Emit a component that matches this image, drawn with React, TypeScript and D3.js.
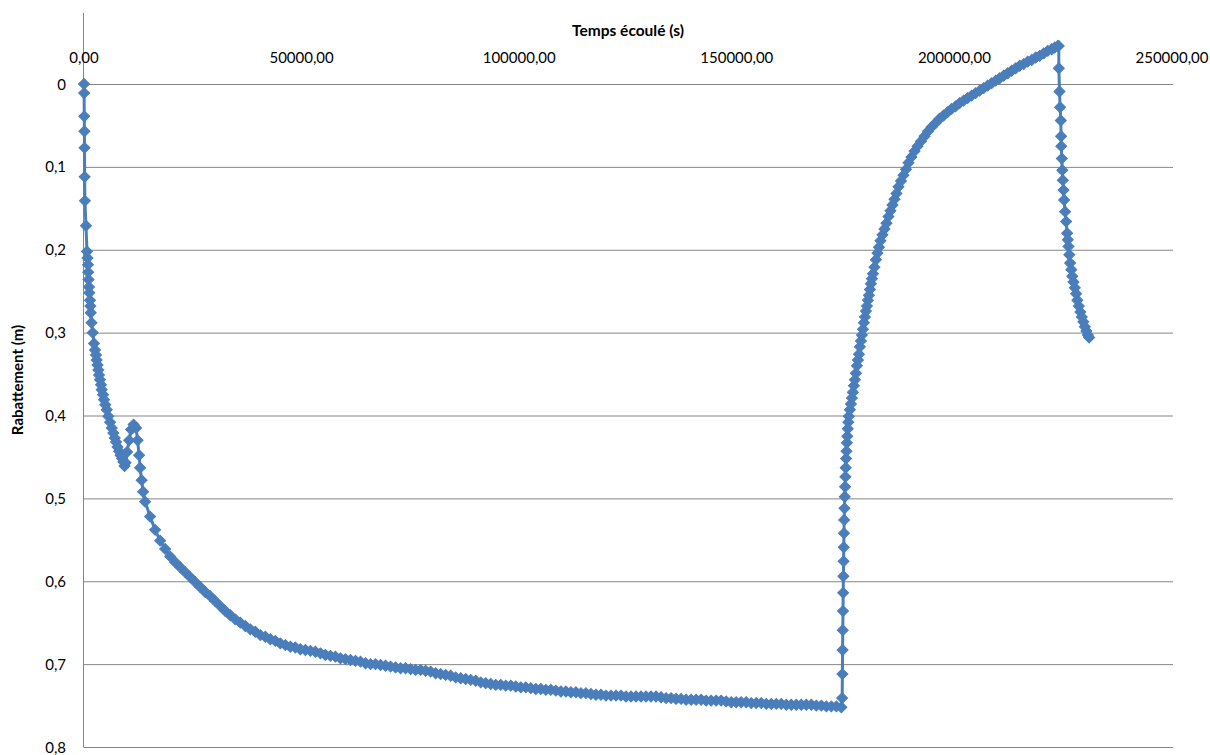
import React from "react";
import * as d3 from "d3";

// Temps écoulé (s), Rabattement (m)
const debutPompage: [number, number][] = [
  [0, 0.0], [30, 0.011], [60, 0.039], [90, 0.057], [120, 0.077], [150, 0.112], [210, 0.141], [450, 0.171], [690, 0.202],
  [810, 0.21], [920, 0.218], [970, 0.227], [1040, 0.236], [1150, 0.245], [1220, 0.252], [1380, 0.261], [1450, 0.268],
  [1540, 0.276], [1730, 0.288], [2000, 0.3], [2300, 0.313], [2530, 0.321], [2760, 0.327], [2920, 0.333], [3110, 0.339],
  [3290, 0.345], [3450, 0.351], [3680, 0.357], [3910, 0.363], [4070, 0.369], [4370, 0.375], [4600, 0.381], [4900, 0.387],
  [5230, 0.393], [5590, 0.401], [5990, 0.408], [6380, 0.415], [6740, 0.421], [7070, 0.427], [7370, 0.432], [7710, 0.438],
  [8060, 0.443], [8400, 0.448], [8750, 0.452], [9050, 0.456], [9320, 0.461],
  [9550, 0.457], [9900, 0.444], [10360, 0.43], [10820, 0.417], [11390, 0.411], [11970, 0.415], [12320, 0.43],
  [12660, 0.448], [12890, 0.463], [13240, 0.478], [13580, 0.492],
];

const pompage: [number, number][] = [
  [14040, 0.504], [15190, 0.522], [16340, 0.538], [17500, 0.551], [18650, 0.561], [19800, 0.57], [20950, 0.577],
  [22100, 0.583], [23250, 0.589], [24400, 0.595], [25550, 0.601], [26700, 0.607], [27850, 0.613], [29010, 0.618],
  [30160, 0.624], [31310, 0.63], [32460, 0.636], [33610, 0.641], [34760, 0.646], [35910, 0.65], [37060, 0.654],
  [38210, 0.658], [39360, 0.661], [40520, 0.665], [41670, 0.667], [42820, 0.67], [43970, 0.672], [45120, 0.675],
  [46270, 0.677], [47420, 0.679], [48570, 0.68], [49720, 0.682], [50870, 0.683], [52030, 0.684], [53180, 0.685],
  [54330, 0.687], [55480, 0.689], [56630, 0.69], [57780, 0.691], [58930, 0.693], [60080, 0.694], [61230, 0.695],
  [62380, 0.696], [63540, 0.697], [64690, 0.699], [65840, 0.7], [66990, 0.7], [68140, 0.701], [69290, 0.702],
  [70440, 0.703], [71590, 0.704], [72740, 0.705], [73890, 0.705], [75050, 0.706], [76200, 0.707], [77350, 0.707],
  [78500, 0.708], [79650, 0.709], [80800, 0.711], [81950, 0.712], [83100, 0.713], [84250, 0.714], [85400, 0.716],
  [86560, 0.717], [87710, 0.718], [88860, 0.719], [90010, 0.72], [91160, 0.722], [92310, 0.723], [93460, 0.724],
  [94610, 0.725], [95760, 0.725], [96910, 0.726], [98070, 0.726], [99220, 0.727], [100370, 0.728], [101520, 0.728],
  [102670, 0.729], [103820, 0.73], [104970, 0.73], [106120, 0.731], [107270, 0.731], [108420, 0.732], [109580, 0.733],
  [110730, 0.733], [111880, 0.734], [113030, 0.734], [114180, 0.735], [115330, 0.735], [116480, 0.736], [117630, 0.737],
  [118780, 0.737], [119930, 0.738], [121090, 0.738], [122240, 0.738], [123390, 0.738], [124540, 0.739], [125690, 0.739],
  [126840, 0.739], [127990, 0.739], [129140, 0.739], [130290, 0.739], [131440, 0.739], [132600, 0.74], [133750, 0.741],
  [134900, 0.741], [136050, 0.742], [137200, 0.742], [138350, 0.743], [139500, 0.743], [140650, 0.743], [141800, 0.743],
  [142950, 0.744], [144110, 0.744], [145260, 0.744], [146410, 0.744], [147560, 0.745], [148710, 0.746], [149860, 0.746],
  [151010, 0.746], [152160, 0.746], [153310, 0.747], [154460, 0.747], [155620, 0.747], [156770, 0.748], [157920, 0.748],
  [159070, 0.748], [160220, 0.748], [161370, 0.749], [162520, 0.749], [163670, 0.749], [164820, 0.749], [165970, 0.749],
  [167130, 0.749], [168280, 0.75], [169430, 0.75], [170580, 0.751], [171730, 0.751], [172880, 0.751], [174030, 0.752],
];

const remontee: [number, number][] = [
  [174210, 0.741], [174260, 0.712], [174310, 0.683], [174350, 0.659], [174400, 0.636], [174440, 0.614], [174490, 0.594],
  [174540, 0.576], [174580, 0.559], [174630, 0.542], [174670, 0.526], [174740, 0.512], [174810, 0.498], [174880, 0.486],
  [174950, 0.474], [175020, 0.463], [175110, 0.452], [175200, 0.443], [175290, 0.433], [175390, 0.425], [175500, 0.416],
  [175620, 0.408], [175730, 0.401],
  [175990, 0.393], [176220, 0.386], [176450, 0.379], [176680, 0.372], [176910, 0.364], [177140, 0.357], [177370, 0.349],
  [177600, 0.34], [177830, 0.333], [178060, 0.326], [178290, 0.317], [178520, 0.31], [178750, 0.303], [178980, 0.296],
  [179210, 0.288], [179440, 0.281], [179670, 0.274], [179900, 0.268], [180130, 0.261], [180360, 0.255], [180590, 0.248],
  [180820, 0.241], [181050, 0.235], [181280, 0.229], [181630, 0.221], [181970, 0.212], [182320, 0.204], [182660, 0.197],
  [183010, 0.189], [183470, 0.182], [183930, 0.175], [184390, 0.168], [184850, 0.16], [185310, 0.153], [185770, 0.146],
  [186230, 0.139], [186690, 0.132], [187150, 0.124], [187730, 0.117], [188300, 0.11], [188880, 0.103], [189450, 0.095],
  [190140, 0.088], [190840, 0.081], [191530, 0.075], [192330, 0.069], [193140, 0.063], [193940, 0.057], [194750, 0.052],
  [195670, 0.047], [196590, 0.042], [197510, 0.038], [198430, 0.034], [199350, 0.03], [200270, 0.027], [201200, 0.023],
  [202120, 0.02], [203040, 0.017], [203960, 0.014], [204880, 0.011], [205800, 0.008], [206720, 0.005], [207640, 0.002],
  [208560, -0.001], [209480, -0.004], [210400, -0.007], [211320, -0.01], [212240, -0.013], [213170, -0.016],
  [214090, -0.019], [215010, -0.022], [215930, -0.024], [216850, -0.027], [217770, -0.029], [218690, -0.032],
  [219610, -0.034], [220530, -0.037], [221450, -0.04], [222370, -0.042], [223060, -0.044], [223750, -0.046],
];

const reprise: [number, number][] = [
  [223980, -0.046], [224000, -0.019], [224150, 0.009], [224290, 0.028], [224450, 0.044], [224520, 0.063], [224560, 0.075],
  [224680, 0.09], [224790, 0.104], [224910, 0.116], [225070, 0.128], [225210, 0.14], [225440, 0.154], [225670, 0.166],
  [225900, 0.18], [226060, 0.188], [226220, 0.196], [226400, 0.206], [226590, 0.216], [226860, 0.224], [227090, 0.232],
  [227370, 0.239], [227670, 0.246], [227970, 0.253], [228250, 0.261], [228590, 0.268], [228940, 0.275], [229280, 0.281],
  [229630, 0.287], [229970, 0.293], [230320, 0.298], [230660, 0.303], [230960, 0.306],
];

const xTicks = [0, 50000, 100000, 150000, 200000, 250000];
const yTicks = [0, 0.1, 0.2, 0.3, 0.4, 0.5, 0.6, 0.7, 0.8];
const yAxisTop = -0.0857;
const xTitle = "Temps écoulé (s)";
const yTitle = "Rabattement (m)";

const locale = d3.formatLocale({ decimal: ",", thousands: "", grouping: [3], currency: ["", "€"] });
const fmtX = locale.format(".2f");
const fmtY = locale.format(".1~f");

const COLOR = "#4A7EBB";
const GRID = "#868686";
const FONT = "Lato, 'Open Sans', sans-serif";

export default function App() {
  const x = d3.scaleLinear().domain([0, 250000]).range([84, 1172]);
  const y = d3.scaleLinear().domain([0, 0.8]).range([84, 747]);
  const data = [...debutPompage, ...pompage, ...remontee, ...reprise];
  const line = d3.line<[number, number]>().x((d) => x(d[0])).y((d) => y(d[1]));
  const diamond = d3.symbol().type(d3.symbolSquare).size(60)() as string;

  return (
    <svg width={1210} height={755} style={{ position: "absolute", left: 0, top: 0, background: "#fff" }}>
      {yTicks.map((t) => (
        <line key={"g" + t} x1={x(0)} x2={1173} y1={y(t) + 0.5} y2={y(t) + 0.5} stroke={GRID} strokeWidth={1} />
      ))}
      <line x1={x(0) - 0.5} x2={x(0) - 0.5} y1={y(yAxisTop)} y2={y(0.8) + 0.5} stroke={GRID} strokeWidth={1} />
      {xTicks.map((t) => (
        <text key={"x" + t} x={x(t)} y={62.5} textAnchor="middle" fontFamily={FONT} fontSize={15} fill="#000">
          {fmtX(t)}
        </text>
      ))}
      {yTicks.map((t) => (
        <text key={"y" + t} x={66} y={y(t) + 5.5} textAnchor="end" fontFamily={FONT} fontSize={15} fill="#000">
          {fmtY(t)}
        </text>
      ))}
      <text x={(x(0) + x(250000)) / 2} y={36} textAnchor="middle" fontFamily={FONT} fontWeight="bold" fontSize={15.5}>
        {xTitle}
      </text>
      <text
        transform={`translate(23, ${(y(yAxisTop) + y(0.8)) / 2}) rotate(-90)`}
        textAnchor="middle"
        fontFamily={FONT}
        fontWeight="bold"
        fontSize={15}
      >
        {yTitle}
      </text>
      <path d={line(data) as string} fill="none" stroke={COLOR} strokeWidth={3} strokeLinejoin="round" />
      {data.map((d, i) => (
        <path
          key={i}
          d={diamond}
          transform={`translate(${x(d[0])},${y(d[1])}) rotate(45)`}
          fill={COLOR}
          stroke={COLOR}
          strokeWidth={1}
        />
      ))}
    </svg>
  );
}
